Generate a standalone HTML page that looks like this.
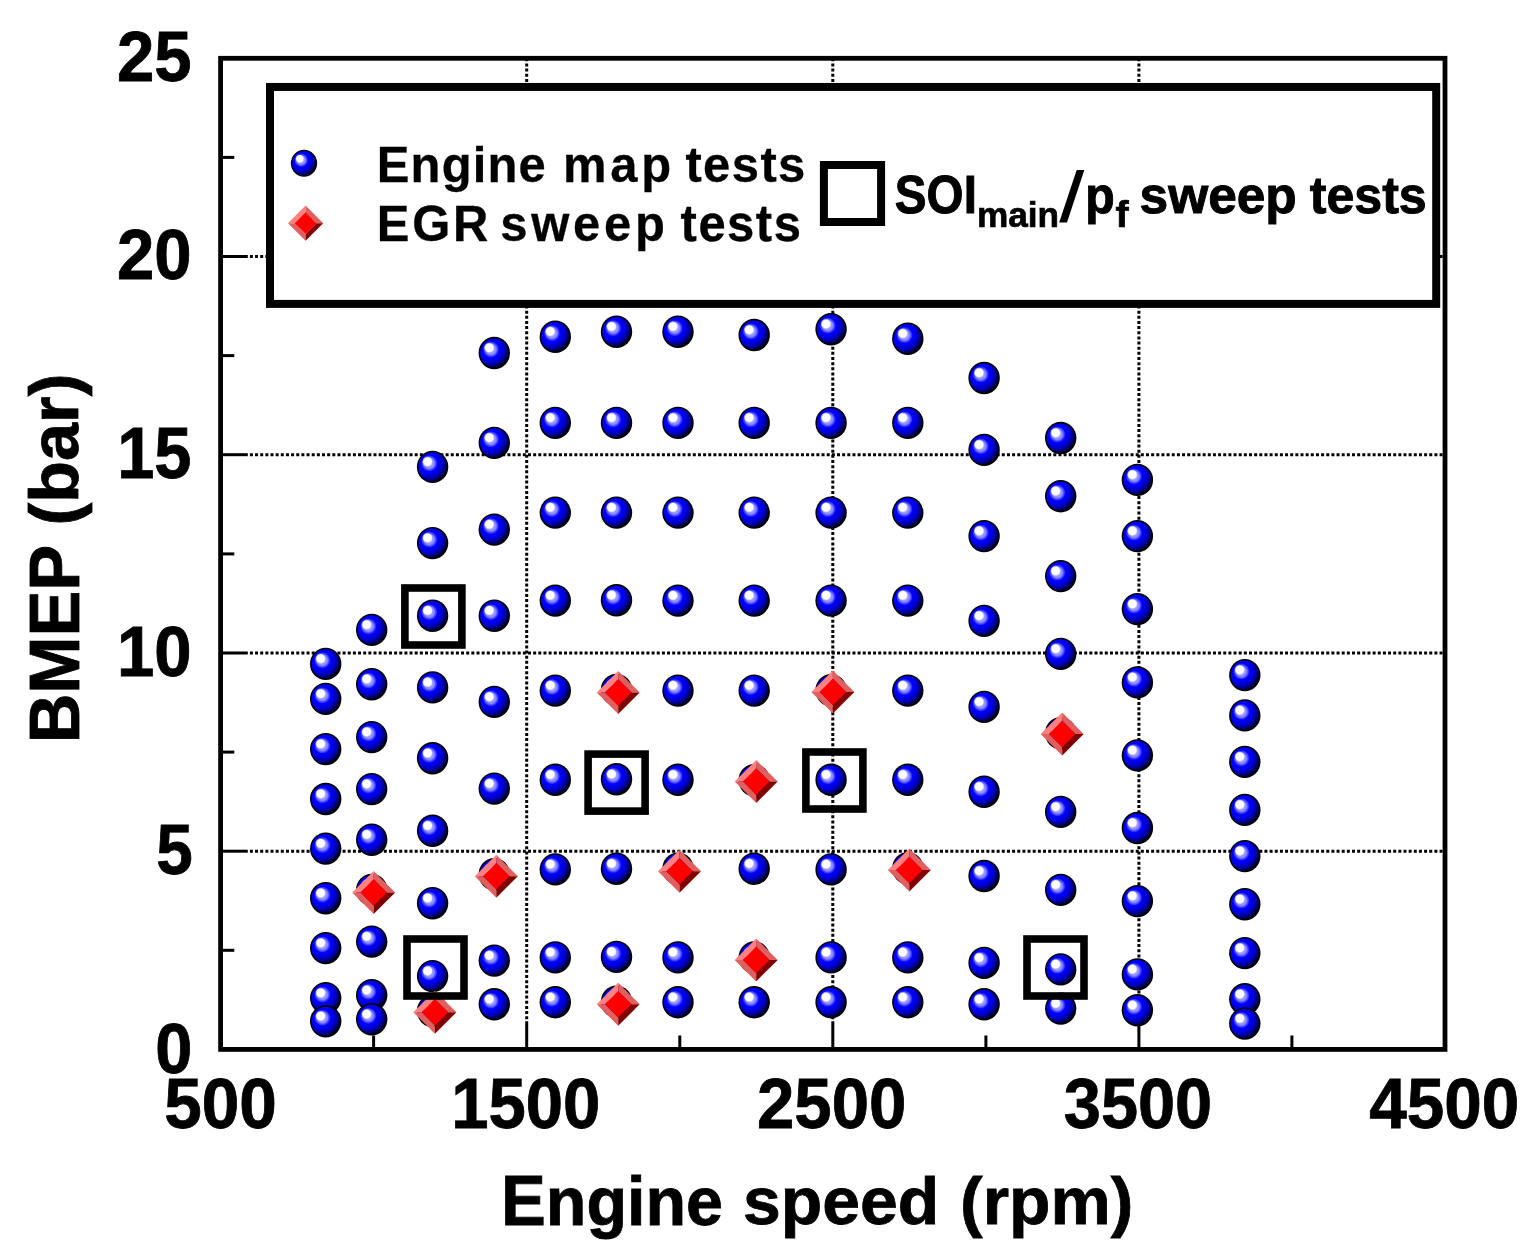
<!DOCTYPE html>
<html lang="en"><head><meta charset="utf-8"><title>Engine map tests</title>
<style>
html,body{margin:0;padding:0;background:#fff;}
body{width:1538px;height:1257px;overflow:hidden;}
svg{display:block;}
text{font-family:"Liberation Sans",sans-serif;font-weight:bold;fill:#000;stroke:#000;}
</style></head><body>
<svg width="1538" height="1257" viewBox="0 0 1538 1257">
<defs>
<radialGradient id="gb" cx="0.36" cy="0.36" r="0.68" fx="0.36" fy="0.36"><stop offset="0" stop-color="#0000ff"/><stop offset="0.48" stop-color="#0000ff"/><stop offset="0.66" stop-color="#0000d4"/><stop offset="0.8" stop-color="#00009c"/><stop offset="0.92" stop-color="#000058"/><stop offset="1" stop-color="#000010"/></radialGradient>
<radialGradient id="gh" cx="0.5" cy="0.5" r="0.5"><stop offset="0" stop-color="#c0c0ff"/><stop offset="0.6" stop-color="#9090ff" stop-opacity="0.95"/><stop offset="0.85" stop-color="#5050ff" stop-opacity="0.6"/><stop offset="1" stop-color="#0000ff" stop-opacity="0"/></radialGradient>
<radialGradient id="gw" cx="0.5" cy="0.5" r="0.5"><stop offset="0" stop-color="#fff"/><stop offset="0.7" stop-color="#fff"/><stop offset="1" stop-color="#fff" stop-opacity="0"/></radialGradient>
<g id="s"><ellipse rx="15.7" ry="16.2" fill="#000"/><ellipse rx="14.2" ry="14.6" fill="url(#gb)"/><circle cx="-3.4" cy="-3.6" r="8.6" fill="url(#gh)"/><circle cx="-5.1" cy="-5.3" r="5.4" fill="url(#gw)"/></g>
<g id="d"><polygon points="0,-21.5 -21.5,0 -13.1,0 0,-13.1" fill="#ff8080"/><polygon points="0,-21.5 21.5,0 13.1,0 0,-13.1" fill="#e06060"/><polygon points="-21.5,0 0,21.5 0,13.1 -13.1,0" fill="#e06060"/><polygon points="21.5,0 0,21.5 0,13.1 13.1,0" fill="#800000"/><polygon points="0,-13.3 13.3,0 0,13.3 -13.3,0" fill="#ff0000"/></g>
<rect id="q" x="-28.5" y="-28.5" width="57" height="57" fill="none" stroke="#000" stroke-width="7.6"/>
</defs>
<rect width="1538" height="1257" fill="#fff"/>
<g stroke="#000" stroke-width="3" stroke-dasharray="3 2.15" fill="none">
<line x1="249.9" y1="851.2" x2="1445.0" y2="851.2"/>
<line x1="249.9" y1="653.0" x2="1445.0" y2="653.0"/>
<line x1="249.9" y1="454.7" x2="1445.0" y2="454.7"/>
<line x1="249.9" y1="256.5" x2="1445.0" y2="256.5"/>
<line x1="526.7" y1="58.3" x2="526.7" y2="1022.0"/>
<line x1="832.8" y1="58.3" x2="832.8" y2="1022.0"/>
<line x1="1138.9" y1="58.3" x2="1138.9" y2="1022.0"/>
</g>
<g stroke="#000" stroke-width="3" fill="none">
<line x1="220.6" y1="1049.4" x2="247.8" y2="1049.4"/>
<line x1="220.6" y1="950.3" x2="234.3" y2="950.3"/>
<line x1="220.6" y1="851.2" x2="247.8" y2="851.2"/>
<line x1="220.6" y1="752.1" x2="234.3" y2="752.1"/>
<line x1="220.6" y1="653.0" x2="247.8" y2="653.0"/>
<line x1="220.6" y1="553.9" x2="234.3" y2="553.9"/>
<line x1="220.6" y1="454.7" x2="247.8" y2="454.7"/>
<line x1="220.6" y1="355.6" x2="234.3" y2="355.6"/>
<line x1="220.6" y1="256.5" x2="247.8" y2="256.5"/>
<line x1="220.6" y1="157.4" x2="234.3" y2="157.4"/>
<line x1="220.6" y1="58.3" x2="247.8" y2="58.3"/>
<line x1="220.6" y1="1049.4" x2="220.6" y2="1022.0"/>
<line x1="373.6" y1="1049.4" x2="373.6" y2="1035.5"/>
<line x1="526.7" y1="1049.4" x2="526.7" y2="1022.0"/>
<line x1="679.8" y1="1049.4" x2="679.8" y2="1035.5"/>
<line x1="832.8" y1="1049.4" x2="832.8" y2="1022.0"/>
<line x1="985.9" y1="1049.4" x2="985.9" y2="1035.5"/>
<line x1="1138.9" y1="1049.4" x2="1138.9" y2="1022.0"/>
<line x1="1291.9" y1="1049.4" x2="1291.9" y2="1035.5"/>
<line x1="1445.0" y1="1049.4" x2="1445.0" y2="1022.0"/>
</g>
<rect x="220.6" y="58.3" width="1224.4" height="991.1" fill="none" stroke="#000" stroke-width="4.8"/>
<g>
<use href="#s" x="325.7" y="663.9"/>
<use href="#s" x="325.7" y="698.9"/>
<use href="#s" x="325.7" y="749.1"/>
<use href="#s" x="325.7" y="799.0"/>
<use href="#s" x="325.7" y="848.6"/>
<use href="#s" x="325.7" y="898.2"/>
<use href="#s" x="325.7" y="948.1"/>
<use href="#s" x="325.7" y="998.1"/>
<use href="#s" x="325.7" y="1021.3"/>
<use href="#s" x="371.7" y="629.9"/>
<use href="#s" x="371.7" y="684.2"/>
<use href="#s" x="371.7" y="737.1"/>
<use href="#s" x="371.7" y="789.1"/>
<use href="#s" x="371.7" y="839.7"/>
<use href="#s" x="371.7" y="889.9"/>
<use href="#s" x="371.7" y="941.6"/>
<use href="#s" x="371.7" y="995.3"/>
<use href="#s" x="371.7" y="1019.3"/>
<use href="#s" x="432.6" y="466.9"/>
<use href="#s" x="432.6" y="543.1"/>
<use href="#s" x="432.6" y="615.7"/>
<use href="#s" x="432.6" y="687.4"/>
<use href="#s" x="432.6" y="758.3"/>
<use href="#s" x="432.6" y="830.8"/>
<use href="#s" x="432.6" y="903.2"/>
<use href="#s" x="432.6" y="976.1"/>
<use href="#s" x="432.6" y="1011.0"/>
<use href="#s" x="494.3" y="353.0"/>
<use href="#s" x="494.3" y="442.9"/>
<use href="#s" x="494.3" y="529.6"/>
<use href="#s" x="494.3" y="615.7"/>
<use href="#s" x="494.3" y="701.9"/>
<use href="#s" x="494.3" y="788.6"/>
<use href="#s" x="494.3" y="874.3"/>
<use href="#s" x="494.3" y="960.6"/>
<use href="#s" x="494.3" y="1004.3"/>
<use href="#s" x="555.3" y="336.7"/>
<use href="#s" x="555.3" y="422.9"/>
<use href="#s" x="555.3" y="512.6"/>
<use href="#s" x="555.3" y="600.6"/>
<use href="#s" x="555.3" y="690.6"/>
<use href="#s" x="555.3" y="779.8"/>
<use href="#s" x="555.3" y="869.4"/>
<use href="#s" x="555.3" y="957.4"/>
<use href="#s" x="555.3" y="1002.3"/>
<use href="#s" x="616.5" y="331.7"/>
<use href="#s" x="616.5" y="422.9"/>
<use href="#s" x="616.5" y="512.6"/>
<use href="#s" x="616.5" y="600.3"/>
<use href="#s" x="616.5" y="689.9"/>
<use href="#s" x="616.5" y="779.3"/>
<use href="#s" x="616.5" y="868.7"/>
<use href="#s" x="616.5" y="956.9"/>
<use href="#s" x="616.5" y="1001.8"/>
<use href="#s" x="678.0" y="331.7"/>
<use href="#s" x="678.0" y="422.9"/>
<use href="#s" x="678.0" y="512.6"/>
<use href="#s" x="678.0" y="600.6"/>
<use href="#s" x="678.0" y="690.6"/>
<use href="#s" x="678.0" y="779.8"/>
<use href="#s" x="678.0" y="868.7"/>
<use href="#s" x="678.0" y="957.4"/>
<use href="#s" x="678.0" y="1002.3"/>
<use href="#s" x="754.2" y="335.0"/>
<use href="#s" x="754.2" y="422.9"/>
<use href="#s" x="754.2" y="512.6"/>
<use href="#s" x="754.2" y="600.6"/>
<use href="#s" x="754.2" y="690.6"/>
<use href="#s" x="754.2" y="780.3"/>
<use href="#s" x="754.2" y="868.7"/>
<use href="#s" x="754.2" y="957.4"/>
<use href="#s" x="754.2" y="1002.3"/>
<use href="#s" x="831.1" y="329.2"/>
<use href="#s" x="831.1" y="422.9"/>
<use href="#s" x="831.1" y="512.6"/>
<use href="#s" x="831.1" y="600.6"/>
<use href="#s" x="831.1" y="690.3"/>
<use href="#s" x="831.1" y="779.8"/>
<use href="#s" x="831.1" y="869.4"/>
<use href="#s" x="831.1" y="957.4"/>
<use href="#s" x="831.1" y="1002.3"/>
<use href="#s" x="907.8" y="338.7"/>
<use href="#s" x="907.8" y="422.9"/>
<use href="#s" x="907.8" y="512.6"/>
<use href="#s" x="907.8" y="600.6"/>
<use href="#s" x="907.8" y="690.6"/>
<use href="#s" x="907.8" y="779.8"/>
<use href="#s" x="907.8" y="868.3"/>
<use href="#s" x="907.8" y="957.4"/>
<use href="#s" x="907.8" y="1002.3"/>
<use href="#s" x="984.1" y="378.0"/>
<use href="#s" x="984.1" y="449.9"/>
<use href="#s" x="984.1" y="536.1"/>
<use href="#s" x="984.1" y="620.9"/>
<use href="#s" x="984.1" y="706.9"/>
<use href="#s" x="984.1" y="791.8"/>
<use href="#s" x="984.1" y="876.0"/>
<use href="#s" x="984.1" y="962.9"/>
<use href="#s" x="984.1" y="1004.3"/>
<use href="#s" x="1060.7" y="438.0"/>
<use href="#s" x="1060.7" y="496.2"/>
<use href="#s" x="1060.7" y="576.1"/>
<use href="#s" x="1060.7" y="653.9"/>
<use href="#s" x="1060.7" y="733.2"/>
<use href="#s" x="1060.7" y="811.9"/>
<use href="#s" x="1060.7" y="889.9"/>
<use href="#s" x="1060.7" y="969.4"/>
<use href="#s" x="1060.7" y="1008.6"/>
<use href="#s" x="1137.4" y="479.9"/>
<use href="#s" x="1137.4" y="536.1"/>
<use href="#s" x="1137.4" y="609.1"/>
<use href="#s" x="1137.4" y="682.4"/>
<use href="#s" x="1137.4" y="755.4"/>
<use href="#s" x="1137.4" y="828.0"/>
<use href="#s" x="1137.4" y="901.1"/>
<use href="#s" x="1137.4" y="974.4"/>
<use href="#s" x="1137.4" y="1010.3"/>
<use href="#s" x="1244.8" y="675.1"/>
<use href="#s" x="1244.8" y="715.4"/>
<use href="#s" x="1244.8" y="761.9"/>
<use href="#s" x="1244.8" y="809.9"/>
<use href="#s" x="1244.8" y="856.1"/>
<use href="#s" x="1244.8" y="904.2"/>
<use href="#s" x="1244.8" y="953.1"/>
<use href="#s" x="1244.8" y="999.3"/>
<use href="#s" x="1244.8" y="1023.6"/>
</g><g>
<use href="#d" x="373.7" y="892.4"/>
<use href="#d" x="434.9" y="1012.3"/>
<use href="#d" x="496.3" y="876.2"/>
<use href="#d" x="618.2" y="692.4"/>
<use href="#d" x="618.2" y="1004.3"/>
<use href="#d" x="679.5" y="871.2"/>
<use href="#d" x="756.2" y="781.6"/>
<use href="#d" x="756.2" y="959.9"/>
<use href="#d" x="832.9" y="691.9"/>
<use href="#d" x="909.3" y="869.9"/>
<use href="#d" x="1062.2" y="733.9"/>
</g><g>
<use href="#q" x="433.4" y="616.5"/>
<use href="#q" x="616.6" y="782.6"/>
<use href="#q" x="435.5" y="967.5"/>
<use href="#q" x="834.4" y="780.5"/>
<use href="#q" x="1055.5" y="967.5"/>
</g>
<rect x="270" y="86.95" width="1166.2" height="216.95" fill="#fff" stroke="#000" stroke-width="8"/>
<use href="#s" transform="translate(304 163.2) scale(0.835)"/>
<use href="#d" transform="translate(305.6 223.2) scale(0.82)"/>
<rect x="823.9" y="165" width="57.2" height="57" fill="none" stroke="#000" stroke-width="8"/>
<g>
<text transform="matrix(0.9875 0 0 1.0399 116.88 80.75)" font-size="68" stroke-width="0.8">25</text>
<text transform="matrix(0.9860 0 0 1.0434 116.90 278.75)" font-size="68" stroke-width="0.8">20</text>
<text transform="matrix(0.9820 0 0 1.0547 117.21 478.25)" font-size="68" stroke-width="0.8">15</text>
<text transform="matrix(0.9869 0 0 1.0455 116.96 676.00)" font-size="68" stroke-width="0.8">10</text>
<text transform="matrix(0.9658 0 0 1.0293 156.20 873.75)" font-size="68" stroke-width="0.8">5</text>
<text transform="matrix(0.9814 0 0 1.0391 155.35 1073.25)" font-size="68" stroke-width="0.8">0</text>
<text transform="matrix(0.9925 0 0 1.0385 164.16 1128.00)" font-size="68" stroke-width="0.8">500</text>
<text transform="matrix(0.9862 0 0 1.0410 451.19 1128.00)" font-size="68" stroke-width="0.8">1500</text>
<text transform="matrix(0.9869 0 0 1.0405 757.06 1128.00)" font-size="68" stroke-width="0.8">2500</text>
<text transform="matrix(0.9814 0 0 1.0405 1063.78 1128.00)" font-size="68" stroke-width="0.8">3500</text>
<text transform="matrix(0.9926 0 0 1.0410 1369.23 1128.00)" font-size="68" stroke-width="0.8">4500</text>
<text transform="matrix(0.9775 0 0 1.0128 501.01 1225.00)" font-size="68" stroke-width="0.8"><tspan font-size="68.7">E</tspan>ngine</text>
<text transform="matrix(0.9990 0 0 0.9887 742.89 1224.00)" font-size="68" stroke-width="0.8">speed</text>
<text transform="matrix(0.9968 0 0 0.9915 960.06 1224.00)" font-size="68" stroke-width="0.8">(rpm)</text>
<text transform="matrix(0 -1.0106 1.0434 0 79.25 743.31)" font-size="68" stroke-width="0.8">BMEP</text>
<text transform="matrix(0 -1.0048 1.0161 0 78.00 525.38)" font-size="68" stroke-width="0.8">(bar)</text>
<text transform="matrix(1.0300 0 0 1.0346 376.75 182.00)" font-size="47.5" stroke-width="0.3" letter-spacing="1.17"><tspan font-size="47.5">E</tspan>ngine</text>
<text transform="matrix(1.0300 0 0 1.0321 563.01 182.00)" font-size="47.5" stroke-width="0.3" letter-spacing="3.64">map</text>
<text transform="matrix(1.0300 0 0 1.0646 685.41 182.00)" font-size="47.5" stroke-width="0.3" letter-spacing="1.38">tests</text>
<text transform="matrix(1.0300 0 0 1.0667 376.74 241.00)" font-size="47.5" stroke-width="0.3" letter-spacing="2.70">EGR</text>
<text transform="matrix(1.0300 0 0 1.0321 500.25 240.75)" font-size="47.5" stroke-width="0.3" letter-spacing="3.65">sweep</text>
<text transform="matrix(1.0300 0 0 1.0777 680.56 241.00)" font-size="47.5" stroke-width="0.3" letter-spacing="1.49">tests</text>
<text transform="matrix(0.8886 0 0 1.0129 894.87 213.25)" font-size="53.6" stroke-width="1">SOI</text>
<text transform="matrix(0.9772 0 0 0.9617 976.99 227.00)" font-size="36" stroke-width="0.7">main</text>
<text transform="matrix(1.23 0 -0.2035 1.313 1058.69 220.88)" font-size="53.6" stroke-width="0">/</text>
<text transform="matrix(0.8993 0 0 0.9816 1085.31 213.25)" font-size="53.6" stroke-width="1">p</text>
<text transform="matrix(1.0957 0 0 1.0106 1115.61 226.75)" font-size="36" stroke-width="0.7">f</text>
<text transform="matrix(0.9600 0 0 0.9518 1139.54 213.25)" font-size="53.6" stroke-width="1">sweep</text>
<text transform="matrix(0.9344 0 0 0.9518 1309.79 213.25)" font-size="53.6" stroke-width="1">tests</text>
</g>
</svg></body></html>
